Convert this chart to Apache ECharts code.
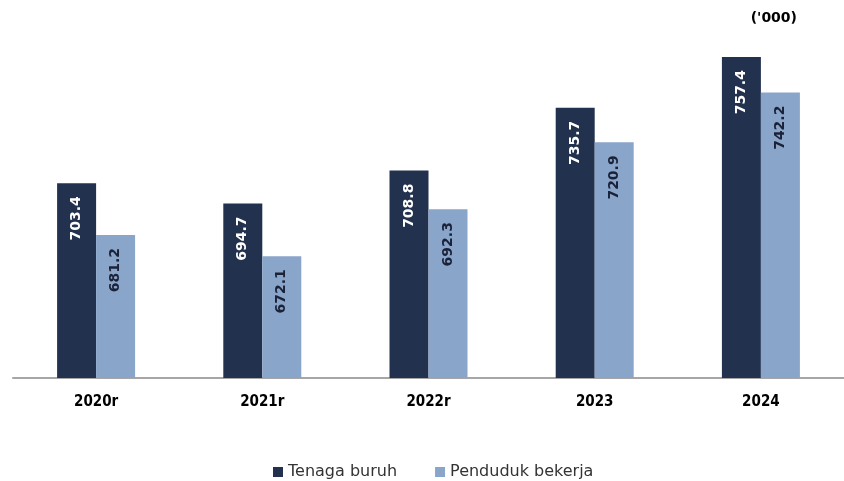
<!DOCTYPE html>
<html><head><meta charset="utf-8">
<script src="https://cdn.jsdelivr.net/npm/echarts@6/dist/echarts.min.js"></script>
<style>html,body{margin:0;padding:0;background:#fff}#c{width:844px;height:481px}</style>
</head><body><div id="c"></div>
<script>
var categories = ['2020r', '2021r', '2022r', '2023', '2024'];
var tenagaBuruh = [703.4, 694.7, 708.8, 735.7, 757.4];
var pendudukBekerja = [681.2, 672.1, 692.3, 720.9, 742.2];
var seriesNames = ['Tenaga buruh', 'Penduduk bekerja'];
var unitText = "('000)";

var chart = echarts.init(document.getElementById('c'));
var lbl = function (color) {
  return {
    show: true, position: 'insideTop', rotate: 90, align: 'right', verticalAlign: 'middle',
    distance: 13, color: color, fontWeight: 'bold', fontSize: 14, fontFamily: 'DejaVu Sans',
    formatter: function (p) { return p.value.toFixed(1); }
  };
};
chart.setOption({
  animation: false,
  title: { text: unitText, right: 42, top: 6, textStyle: { fontSize: 14, fontWeight: 'bold', color: '#000', fontFamily: 'DejaVu Sans' } },
  grid: { left: 13, right: -1, top: 51, bottom: 103 },
  legend: {
    top: 459, left: 268, itemWidth: 10, itemHeight: 10, itemGap: 38, icon: 'rect',
    textStyle: { fontSize: 16, color: '#333', fontFamily: 'DejaVu Sans' },
    data: seriesNames
  },
  xAxis: {
    type: 'category', data: categories,
    axisLine: { lineStyle: { color: '#a6a6a6', width: 2 } },
    axisTick: { show: false },
    axisLabel: { margin: 17, fontSize: 15, fontWeight: 'bold', color: '#000', fontFamily: 'DejaVu Sans Condensed' }
  },
  yAxis: { type: 'value', min: 620, max: 760, show: false, splitLine: { show: false } },
  series: [
    { name: seriesNames[0], type: 'bar', data: tenagaBuruh, barWidth: 39, barGap: '0%', itemStyle: { color: '#22314d' }, label: lbl('#ffffff') },
    { name: seriesNames[1], type: 'bar', data: pendudukBekerja, barWidth: 39, itemStyle: { color: '#8aa5ca' }, label: lbl('#1a2238') }
  ]
});
</script></body></html>
